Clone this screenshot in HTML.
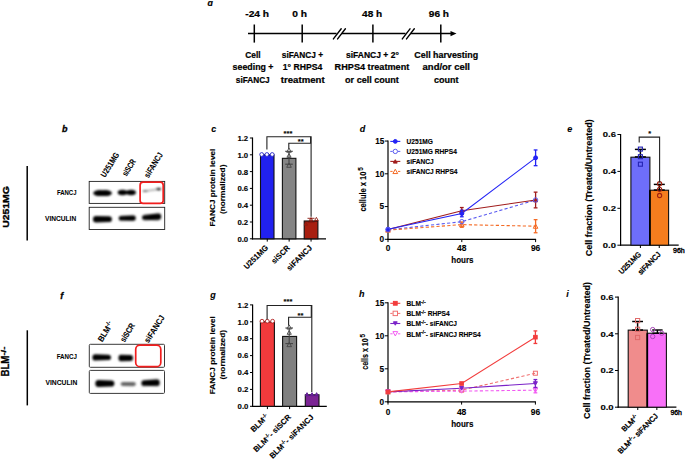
<!DOCTYPE html>
<html><head><meta charset="utf-8"><style>
html,body{margin:0;padding:0;background:#fff;}
svg{display:block;font-family:"Liberation Sans",sans-serif;}
.pz text{stroke:#000;stroke-width:0.12px;}
.pa text{stroke:#000;stroke-width:0.22px;}
</style></head><body>
<svg width="685" height="459" viewBox="0 0 685 459">
<defs>
<filter id="bl" x="-20%" y="-50%" width="140%" height="200%"><feGaussianBlur stdDeviation="0.8"/></filter>
<filter id="bl2" x="-20%" y="-50%" width="140%" height="200%"><feGaussianBlur stdDeviation="0.35"/></filter>
</defs>
<rect width="685" height="459" fill="#fff"/>
<g font-family="Liberation Sans, sans-serif" font-weight="bold" class="pa">
<text x="207.60" y="6.00" font-size="8.8" text-anchor="start" fill="#000" style="font-style:italic" stroke="#000" stroke-width="0.3">&#x251;</text>
<text x="245.30" y="16.90" font-size="9.6" text-anchor="start" fill="#000" textLength="23.80" lengthAdjust="spacingAndGlyphs" >-24 h</text>
<text x="292.30" y="16.90" font-size="9.6" text-anchor="start" fill="#000" textLength="14.80" lengthAdjust="spacingAndGlyphs" >0 h</text>
<text x="362.10" y="16.90" font-size="9.6" text-anchor="start" fill="#000" textLength="20.10" lengthAdjust="spacingAndGlyphs" >48 h</text>
<text x="428.80" y="16.90" font-size="9.6" text-anchor="start" fill="#000" textLength="20.20" lengthAdjust="spacingAndGlyphs" >96 h</text>
<line x1="248.00" y1="33.60" x2="336.60" y2="33.60" stroke="#000" stroke-width="1.5" />
<line x1="341.80" y1="33.60" x2="405.50" y2="33.60" stroke="#000" stroke-width="1.5" />
<line x1="410.60" y1="33.60" x2="452.00" y2="33.60" stroke="#000" stroke-width="1.5" />
<polygon points="450.5,31.0 456.5,33.6 450.5,36.2" fill="#000"/>
<line x1="254.30" y1="24.50" x2="254.30" y2="42.60" stroke="#000" stroke-width="1.5" />
<line x1="302.20" y1="24.50" x2="302.20" y2="42.60" stroke="#000" stroke-width="1.5" />
<line x1="372.90" y1="24.50" x2="372.90" y2="42.60" stroke="#000" stroke-width="1.5" />
<line x1="440.80" y1="24.50" x2="440.80" y2="42.60" stroke="#000" stroke-width="1.5" />
<line x1="333.40" y1="38.90" x2="341.20" y2="28.80" stroke="#000" stroke-width="1.4" stroke-linecap="round"/>
<line x1="337.60" y1="38.90" x2="345.40" y2="28.80" stroke="#000" stroke-width="1.4" stroke-linecap="round"/>
<line x1="402.30" y1="38.90" x2="410.00" y2="28.80" stroke="#000" stroke-width="1.4" stroke-linecap="round"/>
<line x1="406.50" y1="38.90" x2="414.30" y2="28.80" stroke="#000" stroke-width="1.4" stroke-linecap="round"/>
<text x="245.30" y="57.70" font-size="9.0" text-anchor="start" fill="#000" textLength="15.40" lengthAdjust="spacingAndGlyphs" >Cell</text>
<text x="232.60" y="70.30" font-size="9.0" text-anchor="start" fill="#000" textLength="40.90" lengthAdjust="spacingAndGlyphs" >seeding +</text>
<text x="235.80" y="82.70" font-size="9.0" text-anchor="start" fill="#000" textLength="33.90" lengthAdjust="spacingAndGlyphs" >siFANCJ</text>
<text x="281.80" y="57.70" font-size="9.0" text-anchor="start" fill="#000" textLength="41.30" lengthAdjust="spacingAndGlyphs" >siFANCJ +</text>
<text x="282.80" y="70.30" font-size="9.0" text-anchor="start" fill="#000" textLength="39.50" lengthAdjust="spacingAndGlyphs" >1° RHPS4</text>
<text x="280.80" y="82.70" font-size="9.0" text-anchor="start" fill="#000" textLength="43.80" lengthAdjust="spacingAndGlyphs" >treatment</text>
<text x="346.00" y="57.70" font-size="9.0" text-anchor="start" fill="#000" textLength="52.80" lengthAdjust="spacingAndGlyphs" >siFANCJ + 2°</text>
<text x="334.60" y="70.30" font-size="9.0" text-anchor="start" fill="#000" textLength="74.70" lengthAdjust="spacingAndGlyphs" >RHPS4 treatment</text>
<text x="345.10" y="82.70" font-size="9.0" text-anchor="start" fill="#000" textLength="53.70" lengthAdjust="spacingAndGlyphs" >or cell count</text>
<text x="414.30" y="57.70" font-size="9.0" text-anchor="start" fill="#000" textLength="63.80" lengthAdjust="spacingAndGlyphs" >Cell harvesting</text>
<text x="422.60" y="70.30" font-size="9.0" text-anchor="start" fill="#000" textLength="47.40" lengthAdjust="spacingAndGlyphs" >and/or cell</text>
<text x="433.90" y="82.70" font-size="9.0" text-anchor="start" fill="#000" textLength="24.50" lengthAdjust="spacingAndGlyphs" >count</text>
</g>
<g font-family="Liberation Sans, sans-serif" font-weight="bold">
<text x="62.10" y="132.40" font-size="9" text-anchor="start" fill="#000" style="font-style:italic;font-weight:bold" stroke="#000" stroke-width="0.3">b</text>
<line x1="27.20" y1="166.00" x2="27.20" y2="240.60" stroke="#000" stroke-width="1.5" />
<text x="9.00" y="227.80" font-size="9.8" text-anchor="start" fill="#000" textLength="41.60" lengthAdjust="spacingAndGlyphs" transform="rotate(-90 9.00 227.80)" stroke="#000" stroke-width="0.35">U251MG</text>
<text x="56.90" y="194.60" font-size="6.7" text-anchor="start" fill="#000" textLength="19.60" lengthAdjust="spacingAndGlyphs" stroke="#000" stroke-width="0.05">FANCJ</text>
<text x="45.00" y="220.60" font-size="6.7" text-anchor="start" fill="#000" textLength="31.20" lengthAdjust="spacingAndGlyphs" stroke="#000" stroke-width="0.05">VINCULIN</text>
<rect x="89.2" y="181.4" width="75.5" height="22" fill="none" stroke="#222" stroke-width="0.9"/>
<rect x="89.2" y="207.3" width="75.5" height="22.2" fill="none" stroke="#222" stroke-width="0.9"/>
<g fill="#000" opacity="1" filter="url(#bl)" transform="rotate(0 102.55 193.10)"><ellipse cx="99.75" cy="193.10" rx="6.55" ry="3.00"/><ellipse cx="105.36" cy="193.10" rx="6.55" ry="3.00"/><rect x="96.01" y="190.70" width="13.09" height="4.80" rx="2.40"/></g>
<g fill="#000" opacity="1" filter="url(#bl)" transform="rotate(0 126.80 192.50)"><ellipse cx="122.43" cy="192.50" rx="4.73" ry="2.80"/><ellipse cx="131.17" cy="192.50" rx="4.73" ry="2.80"/><rect x="120.43" y="190.80" width="12.74" height="3.40" rx="1.70"/></g>
<g filter="url(#bl)"><line x1="143" y1="191.4" x2="160.6" y2="188.9" stroke="#b0b0b0" stroke-width="1.6"/><ellipse cx="145.2" cy="191.0" rx="2.6" ry="0.9" fill="#777"/><ellipse cx="158.6" cy="189.1" rx="2.6" ry="1.3" fill="#333"/></g>
<path d="M96.02,216.00 L108.88,216.30 A3.02,2.90 0 0 1 108.88,222.10 L96.02,222.40 A3.02,3.20 0 0 1 96.02,216.00 Z" fill="#000" filter="url(#bl)" transform="rotate(0 102.45 219.20)"/>
<path d="M121.44,215.80 L133.06,215.50 A2.74,2.70 0 0 1 133.06,220.90 L121.44,220.60 A2.74,2.40 0 0 1 121.44,215.80 Z" fill="#000" filter="url(#bl)" transform="rotate(-1.5 127.25 218.20)"/>
<path d="M145.09,214.40 L158.21,213.80 A3.09,3.30 0 0 1 158.21,220.40 L145.09,219.80 A3.09,2.70 0 0 1 145.09,214.40 Z" fill="#000" filter="url(#bl)" transform="rotate(-3.5 151.65 217.10)"/>
<rect x="140.1" y="182.2" width="23.1" height="21.2" rx="3" fill="none" stroke="#f21e1e" stroke-width="1.7"/>
<text x="105.00" y="178.00" font-size="8.4" text-anchor="start" fill="#000" textLength="27.60" lengthAdjust="spacingAndGlyphs" transform="rotate(-58 105.00 178.00)" stroke="#000" stroke-width="0.1">U251MG</text>
<text x="126.60" y="176.80" font-size="8.4" text-anchor="start" fill="#000" textLength="18.20" lengthAdjust="spacingAndGlyphs" transform="rotate(-58 126.60 176.80)" stroke="#000" stroke-width="0.1">siSCR</text>
<text x="148.40" y="178.40" font-size="8.4" text-anchor="start" fill="#000" textLength="28.00" lengthAdjust="spacingAndGlyphs" transform="rotate(-58 148.40 178.40)" stroke="#000" stroke-width="0.1">siFANCJ</text>
</g>
<g font-family="Liberation Sans, sans-serif" font-weight="bold">
<text x="60.30" y="298.80" font-size="9" text-anchor="start" fill="#000" style="font-style:italic;font-weight:bold" stroke="#000" stroke-width="0.3">f</text>
<line x1="27.30" y1="330.30" x2="27.30" y2="405.40" stroke="#000" stroke-width="1.5" />
<text x="9.3" y="376.6" font-size="10.2" stroke="#000" stroke-width="0.3" transform="rotate(-90 9.3 376.6)"><tspan textLength="21.0" lengthAdjust="spacingAndGlyphs">BLM</tspan><tspan font-size="7.4" dy="-3.4" textLength="9.0" lengthAdjust="spacingAndGlyphs">-/-</tspan></text>
<text x="56.70" y="359.00" font-size="6.7" text-anchor="start" fill="#000" textLength="20.20" lengthAdjust="spacingAndGlyphs" stroke="#000" stroke-width="0.05">FANCJ</text>
<text x="45.50" y="384.90" font-size="6.7" text-anchor="start" fill="#000" textLength="31.80" lengthAdjust="spacingAndGlyphs" stroke="#000" stroke-width="0.05">VINCULIN</text>
<rect x="89.3" y="344.3" width="75.2" height="23" rx="1" fill="#fff" stroke="#3a3a3a" stroke-width="1.0"/>
<rect x="89.3" y="370.4" width="75.2" height="23" rx="1" fill="#fff" stroke="#3a3a3a" stroke-width="1.0"/>
<path d="M95.38,354.20 L108.02,354.80 A2.98,2.60 0 0 1 108.02,360.00 L95.38,360.60 A2.98,3.20 0 0 1 95.38,354.20 Z" fill="#000" filter="url(#bl)" transform="rotate(0 101.70 357.40)"/>
<path d="M120.82,354.80 L130.68,355.00 A2.32,3.00 0 0 1 130.68,361.00 L120.82,361.20 A2.32,3.20 0 0 1 120.82,354.80 Z" fill="#000" filter="url(#bl)" transform="rotate(0 125.75 358.00)"/>
<path d="M98.36,380.00 L111.34,380.40 A3.06,3.10 0 0 1 111.34,386.60 L98.36,387.00 A3.06,3.50 0 0 1 98.36,380.00 Z" fill="#000" filter="url(#bl)" transform="rotate(0 104.85 383.50)"/>
<path d="M123.05,382.10 L133.45,382.00 A2.45,2.10 0 0 1 133.45,386.20 L123.05,386.10 A2.45,2.00 0 0 1 123.05,382.10 Z" fill="#666" filter="url(#bl)" transform="rotate(0 128.25 384.10)"/>
<path d="M144.26,380.00 L156.84,379.50 A2.96,3.40 0 0 1 156.84,386.30 L144.26,385.80 A2.96,2.90 0 0 1 144.26,380.00 Z" fill="#000" filter="url(#bl)" transform="rotate(-2 150.55 382.90)"/>
<rect x="135.7" y="345.2" width="25.1" height="21.5" rx="4.2" fill="none" stroke="#f21e1e" stroke-width="1.7"/>
<text x="102.2" y="342.4" font-size="8.4" stroke="#000" stroke-width="0.1" transform="rotate(-58 102.2 342.4)"><tspan textLength="16.5" lengthAdjust="spacingAndGlyphs">BLM</tspan><tspan font-size="5.6" dy="-3.0">-/-</tspan></text>
<text x="124.40" y="342.80" font-size="8.4" text-anchor="start" fill="#000" textLength="20.50" lengthAdjust="spacingAndGlyphs" transform="rotate(-58 124.40 342.80)" stroke="#000" stroke-width="0.1">siSCR</text>
<text x="148.60" y="343.60" font-size="8.4" text-anchor="start" fill="#000" textLength="31.00" lengthAdjust="spacingAndGlyphs" transform="rotate(-58 148.60 343.60)" stroke="#000" stroke-width="0.1">siFANCJ</text>
</g>
<g font-family="Liberation Sans, sans-serif" font-weight="bold" class="pz">
<text x="211.30" y="132.10" font-size="9" text-anchor="start" fill="#000" style="font-style:italic;font-weight:bold" stroke="#000" stroke-width="0.3">c</text>
<line x1="252.50" y1="137.50" x2="252.50" y2="239.40" stroke="#000" stroke-width="1.2" />
<line x1="251.90" y1="238.80" x2="326.00" y2="238.80" stroke="#000" stroke-width="1.3" />
<line x1="249.90" y1="238.80" x2="252.50" y2="238.80" stroke="#000" stroke-width="1.0" />
<text x="248.20" y="241.80" font-size="8.0" text-anchor="end" fill="#000" textLength="10.80" lengthAdjust="spacingAndGlyphs" >0.0</text>
<line x1="249.90" y1="222.00" x2="252.50" y2="222.00" stroke="#000" stroke-width="1.0" />
<text x="248.20" y="225.00" font-size="8.0" text-anchor="end" fill="#000" textLength="10.80" lengthAdjust="spacingAndGlyphs" >0.2</text>
<line x1="249.90" y1="205.20" x2="252.50" y2="205.20" stroke="#000" stroke-width="1.0" />
<text x="248.20" y="208.20" font-size="8.0" text-anchor="end" fill="#000" textLength="10.80" lengthAdjust="spacingAndGlyphs" >0.4</text>
<line x1="249.90" y1="188.40" x2="252.50" y2="188.40" stroke="#000" stroke-width="1.0" />
<text x="248.20" y="191.40" font-size="8.0" text-anchor="end" fill="#000" textLength="10.80" lengthAdjust="spacingAndGlyphs" >0.6</text>
<line x1="249.90" y1="171.60" x2="252.50" y2="171.60" stroke="#000" stroke-width="1.0" />
<text x="248.20" y="174.60" font-size="8.0" text-anchor="end" fill="#000" textLength="10.80" lengthAdjust="spacingAndGlyphs" >0.8</text>
<line x1="249.90" y1="154.80" x2="252.50" y2="154.80" stroke="#000" stroke-width="1.0" />
<text x="248.20" y="157.80" font-size="8.0" text-anchor="end" fill="#000" textLength="10.80" lengthAdjust="spacingAndGlyphs" >1.0</text>
<line x1="249.90" y1="138.00" x2="252.50" y2="138.00" stroke="#000" stroke-width="1.0" />
<text x="248.20" y="141.00" font-size="8.0" text-anchor="end" fill="#000" textLength="10.80" lengthAdjust="spacingAndGlyphs" >1.2</text>
<text x="215.00" y="187.60" font-size="8.0" text-anchor="middle" fill="#000" textLength="78.00" lengthAdjust="spacingAndGlyphs" transform="rotate(-90 215.00 187.60)" >FANCJ protein level</text>
<text x="225.20" y="189.30" font-size="8.0" text-anchor="middle" fill="#000" textLength="49.60" lengthAdjust="spacingAndGlyphs" transform="rotate(-90 225.20 189.30)" >(normalized)</text>
<rect x="260.50" y="154.80" width="13.50" height="84.00" fill="#2121ef" stroke="#111" stroke-width="1.1"/>
<line x1="267.25" y1="238.80" x2="267.25" y2="241.60" stroke="#000" stroke-width="1.0" />
<rect x="282.40" y="158.33" width="13.50" height="80.47" fill="#858585" stroke="#111" stroke-width="1.1"/>
<line x1="289.15" y1="238.80" x2="289.15" y2="241.60" stroke="#000" stroke-width="1.0" />
<rect x="304.20" y="220.99" width="13.70" height="17.81" fill="#a81f10" stroke="#111" stroke-width="1.1"/>
<line x1="311.05" y1="238.80" x2="311.05" y2="241.60" stroke="#000" stroke-width="1.0" />
<circle cx="261.70" cy="154.50" r="1.9" fill="#fff" stroke="#2222c8" stroke-width="0.9"/>
<circle cx="266.90" cy="154.50" r="1.9" fill="#fff" stroke="#2222c8" stroke-width="0.9"/>
<circle cx="272.20" cy="154.50" r="1.9" fill="#fff" stroke="#2222c8" stroke-width="0.9"/>
<line x1="289.00" y1="151.30" x2="289.00" y2="164.20" stroke="#444" stroke-width="1.1" />
<line x1="285.20" y1="151.30" x2="292.80" y2="151.30" stroke="#444" stroke-width="1.1" />
<line x1="285.20" y1="164.20" x2="292.80" y2="164.20" stroke="#444" stroke-width="1.1" />
<polygon points="286.70,152.27 291.30,152.27 289.00,148.13" fill="none" stroke="#444" stroke-width="0.9"/>
<polygon points="286.90,157.29 291.10,157.29 289.00,153.51" fill="none" stroke="#444" stroke-width="0.9"/>
<polygon points="286.70,167.27 291.30,167.27 289.00,163.13" fill="none" stroke="#444" stroke-width="0.9"/>
<line x1="311.00" y1="218.30" x2="311.00" y2="222.60" stroke="#8a1a10" stroke-width="0.9" />
<line x1="307.50" y1="218.30" x2="314.50" y2="218.30" stroke="#8a1a10" stroke-width="0.9" />
<line x1="307.50" y1="222.60" x2="314.50" y2="222.60" stroke="#8a1a10" stroke-width="0.9" />
<polygon points="309.20,220.82 312.80,220.82 311.00,217.58" fill="none" stroke="#8a1a10" stroke-width="0.9"/>
<polygon points="314.60,220.62 318.20,220.62 316.40,217.38" fill="none" stroke="#8a1a10" stroke-width="0.9"/>
<polygon points="304.10,225.13 307.50,225.13 305.80,222.07" fill="none" stroke="#8a1a10" stroke-width="0.9"/>
<polyline points="266.90,149.60 266.90,136.80 311.10,136.80 311.10,216.80" fill="none" stroke="#222" stroke-width="1.1"/>
<polyline points="288.80,148.70 288.80,143.30 310.60,143.30 310.60,136.80" fill="none" stroke="#222" stroke-width="1.1"/>
<text x="288.00" y="135.60" font-size="7.5" text-anchor="middle" fill="#000" >***</text>
<text x="300.70" y="144.00" font-size="7.5" text-anchor="middle" fill="#000" >**</text>
<text x="268.60" y="248.20" font-size="8.0" text-anchor="end" fill="#000" textLength="30.60" lengthAdjust="spacingAndGlyphs" transform="rotate(-45 268.60 248.20)" >U251MG</text>
<text x="290.40" y="248.40" font-size="8.0" text-anchor="end" fill="#000" textLength="22.40" lengthAdjust="spacingAndGlyphs" transform="rotate(-45 290.40 248.40)" >siSCR</text>
<text x="312.60" y="248.40" font-size="8.0" text-anchor="end" fill="#000" textLength="32.30" lengthAdjust="spacingAndGlyphs" transform="rotate(-45 312.60 248.40)" >siFANCJ</text>
</g>
<g font-family="Liberation Sans, sans-serif" font-weight="bold" class="pz">
<text x="359.70" y="132.10" font-size="9" text-anchor="start" fill="#000" style="font-style:italic;font-weight:bold" stroke="#000" stroke-width="0.3">d</text>
<line x1="388.00" y1="140.55" x2="388.00" y2="239.90" stroke="#000" stroke-width="1.2" />
<line x1="387.40" y1="239.30" x2="536.10" y2="239.30" stroke="#000" stroke-width="1.2" />
<line x1="384.80" y1="239.30" x2="388.00" y2="239.30" stroke="#000" stroke-width="1.0" />
<text x="384.20" y="242.20" font-size="8.2" text-anchor="end" fill="#000" textLength="4.60" lengthAdjust="spacingAndGlyphs" >0</text>
<line x1="384.80" y1="206.55" x2="388.00" y2="206.55" stroke="#000" stroke-width="1.0" />
<text x="384.20" y="209.45" font-size="8.2" text-anchor="end" fill="#000" textLength="4.60" lengthAdjust="spacingAndGlyphs" >5</text>
<line x1="384.80" y1="173.80" x2="388.00" y2="173.80" stroke="#000" stroke-width="1.0" />
<text x="384.20" y="176.70" font-size="8.2" text-anchor="end" fill="#000" textLength="9.00" lengthAdjust="spacingAndGlyphs" >10</text>
<line x1="384.80" y1="141.05" x2="388.00" y2="141.05" stroke="#000" stroke-width="1.0" />
<text x="384.20" y="143.95" font-size="8.2" text-anchor="end" fill="#000" textLength="9.00" lengthAdjust="spacingAndGlyphs" >15</text>
<line x1="388.00" y1="239.30" x2="388.00" y2="242.10" stroke="#000" stroke-width="1.0" />
<text x="388.00" y="251.10" font-size="8.2" text-anchor="middle" fill="#000" textLength="4.60" lengthAdjust="spacingAndGlyphs" >0</text>
<line x1="461.80" y1="239.30" x2="461.80" y2="242.10" stroke="#000" stroke-width="1.0" />
<text x="461.80" y="251.10" font-size="8.2" text-anchor="middle" fill="#000" textLength="9.40" lengthAdjust="spacingAndGlyphs" >48</text>
<line x1="535.60" y1="239.30" x2="535.60" y2="242.10" stroke="#000" stroke-width="1.0" />
<text x="535.60" y="251.10" font-size="8.2" text-anchor="middle" fill="#000" textLength="9.40" lengthAdjust="spacingAndGlyphs" >96</text>
<text x="462.40" y="263.10" font-size="8.6" text-anchor="middle" fill="#000" textLength="22.20" lengthAdjust="spacingAndGlyphs" >hours</text>
<text x="0" y="0" font-size="7.50" transform="translate(366.40 211.60) rotate(-90) scale(1 1.121)">cellule x 10</text>
<text x="363.00" y="170.80" font-size="6.4" transform="rotate(-90 363.00 170.80)">5</text>
<polyline points="388.00,229.80 461.80,221.68 535.60,200.00" fill="none" stroke="#5b5bf0" stroke-width="1.1" stroke-dasharray="3.2,2.2"/>
<polyline points="388.00,230.13 461.80,224.63 535.60,226.20" fill="none" stroke="#f46a24" stroke-width="1.1" stroke-dasharray="3.2,2.2"/>
<polyline points="388.00,229.48 461.80,210.81 535.60,200.00" fill="none" stroke="#a01c1c" stroke-width="1.1"/>
<polyline points="388.00,229.21 461.80,213.49 535.60,157.82" fill="none" stroke="#2323f5" stroke-width="1.1"/>
<polygon points="385.70,232.20 390.30,232.20 388.00,228.06" fill="none" stroke="#f46a24" stroke-width="1.0"/>
<line x1="461.80" y1="222.01" x2="461.80" y2="227.25" stroke="#f46a24" stroke-width="1.3" />
<line x1="459.90" y1="222.01" x2="463.70" y2="222.01" stroke="#f46a24" stroke-width="1.3" />
<line x1="459.90" y1="227.25" x2="463.70" y2="227.25" stroke="#f46a24" stroke-width="1.3" />
<polygon points="459.50,226.70 464.10,226.70 461.80,222.56" fill="none" stroke="#f46a24" stroke-width="1.0"/>
<line x1="535.60" y1="219.65" x2="535.60" y2="232.75" stroke="#f46a24" stroke-width="1.3" />
<line x1="533.70" y1="219.65" x2="537.50" y2="219.65" stroke="#f46a24" stroke-width="1.3" />
<line x1="533.70" y1="232.75" x2="537.50" y2="232.75" stroke="#f46a24" stroke-width="1.3" />
<polygon points="533.30,228.27 537.90,228.27 535.60,224.13" fill="none" stroke="#f46a24" stroke-width="1.0"/>
<polygon points="386.00,231.28 390.00,231.28 388.00,227.68" fill="#a01c1c" stroke="#a01c1c" stroke-width="1.0"/>
<line x1="461.80" y1="207.53" x2="461.80" y2="214.08" stroke="#a01c1c" stroke-width="1.3" />
<line x1="459.90" y1="207.53" x2="463.70" y2="207.53" stroke="#a01c1c" stroke-width="1.3" />
<line x1="459.90" y1="214.08" x2="463.70" y2="214.08" stroke="#a01c1c" stroke-width="1.3" />
<polygon points="459.80,212.61 463.80,212.61 461.80,209.01" fill="#a01c1c" stroke="#a01c1c" stroke-width="1.0"/>
<line x1="535.60" y1="192.14" x2="535.60" y2="207.86" stroke="#a01c1c" stroke-width="1.3" />
<line x1="533.70" y1="192.14" x2="537.50" y2="192.14" stroke="#a01c1c" stroke-width="1.3" />
<line x1="533.70" y1="207.86" x2="537.50" y2="207.86" stroke="#a01c1c" stroke-width="1.3" />
<polygon points="533.60,201.80 537.60,201.80 535.60,198.20" fill="#a01c1c" stroke="#a01c1c" stroke-width="1.0"/>
<circle cx="388.00" cy="229.21" r="2.0" fill="#2323f5" stroke="#2323f5" stroke-width="1.0"/>
<line x1="461.80" y1="210.22" x2="461.80" y2="216.77" stroke="#2323f5" stroke-width="1.3" />
<line x1="459.90" y1="210.22" x2="463.70" y2="210.22" stroke="#2323f5" stroke-width="1.3" />
<line x1="459.90" y1="216.77" x2="463.70" y2="216.77" stroke="#2323f5" stroke-width="1.3" />
<circle cx="461.80" cy="213.49" r="2.0" fill="#2323f5" stroke="#2323f5" stroke-width="1.0"/>
<line x1="535.60" y1="149.96" x2="535.60" y2="165.68" stroke="#2323f5" stroke-width="1.3" />
<line x1="533.70" y1="149.96" x2="537.50" y2="149.96" stroke="#2323f5" stroke-width="1.3" />
<line x1="533.70" y1="165.68" x2="537.50" y2="165.68" stroke="#2323f5" stroke-width="1.3" />
<circle cx="535.60" cy="157.82" r="2.0" fill="#2323f5" stroke="#2323f5" stroke-width="1.0"/>
<circle cx="388.00" cy="229.80" r="2.2" fill="none" stroke="#5b5bf0" stroke-width="1.0"/>
<circle cx="461.80" cy="221.68" r="2.2" fill="none" stroke="#5b5bf0" stroke-width="1.0"/>
<circle cx="535.60" cy="200.00" r="2.2" fill="none" stroke="#5b5bf0" stroke-width="1.0"/>
<line x1="390.30" y1="141.40" x2="400.30" y2="141.40" stroke="#2323f5" stroke-width="1.1" />
<circle cx="395.30" cy="141.40" r="1.9" fill="#2323f5" stroke="#2323f5" stroke-width="1.0"/>
<text x="406.6" y="143.80" font-size="6.6">U251MG</text>
<line x1="390.30" y1="151.40" x2="392.60" y2="151.40" stroke="#5b5bf0" stroke-width="1.0" />
<line x1="398.00" y1="151.40" x2="400.30" y2="151.40" stroke="#5b5bf0" stroke-width="1.0" />
<circle cx="395.30" cy="151.40" r="2.2" fill="none" stroke="#5b5bf0" stroke-width="1.0"/>
<text x="406.6" y="153.80" font-size="6.6">U251MG RHPS4</text>
<line x1="390.30" y1="161.40" x2="400.30" y2="161.40" stroke="#a01c1c" stroke-width="1.1" />
<polygon points="393.40,163.11 397.20,163.11 395.30,159.69" fill="#a01c1c" stroke="#a01c1c" stroke-width="1.0"/>
<text x="406.6" y="163.80" font-size="6.6">siFANCJ</text>
<line x1="390.30" y1="171.40" x2="392.60" y2="171.40" stroke="#f46a24" stroke-width="1.0" />
<line x1="398.00" y1="171.40" x2="400.30" y2="171.40" stroke="#f46a24" stroke-width="1.0" />
<polygon points="392.90,173.56 397.70,173.56 395.30,169.24" fill="none" stroke="#f46a24" stroke-width="1.0"/>
<text x="406.6" y="173.80" font-size="6.6">siFANCJ RHPS4</text>
</g>
<g font-family="Liberation Sans, sans-serif" font-weight="bold" class="pz">
<text x="567.30" y="132.10" font-size="9" text-anchor="start" fill="#000" style="font-style:italic;font-weight:bold" stroke="#000" stroke-width="0.3">e</text>
<line x1="620.60" y1="134.00" x2="620.60" y2="245.80" stroke="#000" stroke-width="1.2" />
<line x1="620.00" y1="245.20" x2="678.70" y2="245.20" stroke="#000" stroke-width="1.2" />
<line x1="617.40" y1="245.20" x2="620.60" y2="245.20" stroke="#000" stroke-width="1.0" />
<text x="616.00" y="247.90" font-size="7.6" text-anchor="end" fill="#000" textLength="13.20" lengthAdjust="spacingAndGlyphs" >0.0</text>
<line x1="617.40" y1="208.30" x2="620.60" y2="208.30" stroke="#000" stroke-width="1.0" />
<text x="616.00" y="211.00" font-size="7.6" text-anchor="end" fill="#000" textLength="13.20" lengthAdjust="spacingAndGlyphs" >0.2</text>
<line x1="617.40" y1="171.40" x2="620.60" y2="171.40" stroke="#000" stroke-width="1.0" />
<text x="616.00" y="174.10" font-size="7.6" text-anchor="end" fill="#000" textLength="13.20" lengthAdjust="spacingAndGlyphs" >0.4</text>
<line x1="617.40" y1="134.50" x2="620.60" y2="134.50" stroke="#000" stroke-width="1.0" />
<text x="616.00" y="137.20" font-size="7.6" text-anchor="end" fill="#000" textLength="13.20" lengthAdjust="spacingAndGlyphs" >0.6</text>
<text x="592.50" y="187.70" font-size="9.8" text-anchor="middle" fill="#000" textLength="137.00" lengthAdjust="spacingAndGlyphs" transform="rotate(-90 592.50 187.70)" >Cell fraction (Treated/Untreated)</text>
<rect x="630.90" y="157.19" width="19.00" height="88.01" fill="#6e6efa" stroke="#111" stroke-width="1.1"/>
<line x1="640.40" y1="245.20" x2="640.40" y2="248.00" stroke="#000" stroke-width="1.0" />
<rect x="649.90" y="190.22" width="18.70" height="54.98" fill="#f57d1e" stroke="#111" stroke-width="1.1"/>
<line x1="659.25" y1="245.20" x2="659.25" y2="248.00" stroke="#000" stroke-width="1.0" />
<line x1="649.90" y1="190.22" x2="649.90" y2="245.20" stroke="#000" stroke-width="1.7" />
<line x1="640.40" y1="149.40" x2="640.40" y2="156.90" stroke="#000" stroke-width="1.45" />
<line x1="634.90" y1="149.40" x2="645.90" y2="149.40" stroke="#000" stroke-width="1.45" />
<line x1="634.90" y1="156.90" x2="645.90" y2="156.90" stroke="#000" stroke-width="1.45" />
<rect x="638.40" y="147.10" width="4.0" height="4.0" fill="none" stroke="#2424b4" stroke-width="1.1"/>
<rect x="638.40" y="154.70" width="4.0" height="4.0" fill="none" stroke="#2424b4" stroke-width="1.1"/>
<rect x="638.40" y="162.20" width="4.0" height="4.0" fill="none" stroke="#2424b4" stroke-width="1.1"/>
<line x1="659.30" y1="184.40" x2="659.30" y2="190.00" stroke="#000" stroke-width="1.45" />
<line x1="653.80" y1="184.40" x2="664.80" y2="184.40" stroke="#000" stroke-width="1.45" />
<line x1="653.80" y1="190.00" x2="664.80" y2="190.00" stroke="#000" stroke-width="1.45" />
<circle cx="659.60" cy="183.70" r="2.1" fill="none" stroke="#a02010" stroke-width="1.1"/>
<circle cx="659.60" cy="189.30" r="2.1" fill="none" stroke="#a02010" stroke-width="1.1"/>
<circle cx="659.60" cy="195.50" r="2.1" fill="none" stroke="#a02010" stroke-width="1.1"/>
<polyline points="639.20,142.60 639.20,137.10 659.60,137.10 659.60,182.40" fill="none" stroke="#222" stroke-width="1.1"/>
<text x="649.80" y="136.20" font-size="7.5" text-anchor="middle" fill="#000" >*</text>
<text x="673.00" y="252.60" font-size="7.0" text-anchor="start" fill="#000" textLength="11.80" lengthAdjust="spacingAndGlyphs" style="font-weight:normal;stroke-width:0.4px" >96h</text>
<text x="641.60" y="254.80" font-size="7.4" text-anchor="end" fill="#000" textLength="28.00" lengthAdjust="spacingAndGlyphs" transform="rotate(-45 641.60 254.80)" style="font-weight:normal;stroke-width:0.4px" >U251MG</text>
<text x="661.20" y="254.80" font-size="7.4" text-anchor="end" fill="#000" textLength="28.60" lengthAdjust="spacingAndGlyphs" transform="rotate(-45 661.20 254.80)" style="font-weight:normal;stroke-width:0.4px" >siFANCJ</text>
</g>
<g font-family="Liberation Sans, sans-serif" font-weight="bold" class="pz">
<text x="210.30" y="298.40" font-size="9" text-anchor="start" fill="#000" style="font-style:italic;font-weight:bold" stroke="#000" stroke-width="0.3">g</text>
<line x1="252.60" y1="304.40" x2="252.60" y2="406.90" stroke="#000" stroke-width="1.2" />
<line x1="252.00" y1="406.30" x2="326.80" y2="406.30" stroke="#000" stroke-width="1.2" />
<line x1="250.00" y1="406.30" x2="252.60" y2="406.30" stroke="#000" stroke-width="1.0" />
<text x="248.40" y="409.00" font-size="8.0" text-anchor="end" fill="#000" textLength="10.80" lengthAdjust="spacingAndGlyphs" >0.0</text>
<line x1="250.00" y1="389.40" x2="252.60" y2="389.40" stroke="#000" stroke-width="1.0" />
<text x="248.40" y="392.10" font-size="8.0" text-anchor="end" fill="#000" textLength="10.80" lengthAdjust="spacingAndGlyphs" >0.2</text>
<line x1="250.00" y1="372.50" x2="252.60" y2="372.50" stroke="#000" stroke-width="1.0" />
<text x="248.40" y="375.20" font-size="8.0" text-anchor="end" fill="#000" textLength="10.80" lengthAdjust="spacingAndGlyphs" >0.4</text>
<line x1="250.00" y1="355.60" x2="252.60" y2="355.60" stroke="#000" stroke-width="1.0" />
<text x="248.40" y="358.30" font-size="8.0" text-anchor="end" fill="#000" textLength="10.80" lengthAdjust="spacingAndGlyphs" >0.6</text>
<line x1="250.00" y1="338.70" x2="252.60" y2="338.70" stroke="#000" stroke-width="1.0" />
<text x="248.40" y="341.40" font-size="8.0" text-anchor="end" fill="#000" textLength="10.80" lengthAdjust="spacingAndGlyphs" >0.8</text>
<line x1="250.00" y1="321.80" x2="252.60" y2="321.80" stroke="#000" stroke-width="1.0" />
<text x="248.40" y="324.50" font-size="8.0" text-anchor="end" fill="#000" textLength="10.80" lengthAdjust="spacingAndGlyphs" >1.0</text>
<line x1="250.00" y1="304.90" x2="252.60" y2="304.90" stroke="#000" stroke-width="1.0" />
<text x="248.40" y="307.60" font-size="8.0" text-anchor="end" fill="#000" textLength="10.80" lengthAdjust="spacingAndGlyphs" >1.2</text>
<text x="215.20" y="355.20" font-size="8.0" text-anchor="middle" fill="#000" textLength="78.00" lengthAdjust="spacingAndGlyphs" transform="rotate(-90 215.20 355.20)" >FANCJ protein level</text>
<text x="225.20" y="354.70" font-size="8.0" text-anchor="middle" fill="#000" textLength="49.60" lengthAdjust="spacingAndGlyphs" transform="rotate(-90 225.20 354.70)" >(normalized)</text>
<rect x="260.40" y="321.80" width="14.00" height="84.50" fill="#f23a3c" stroke="#111" stroke-width="1.1"/>
<line x1="267.40" y1="406.30" x2="267.40" y2="409.10" stroke="#000" stroke-width="1.0" />
<rect x="282.60" y="336.42" width="14.00" height="69.88" fill="#808080" stroke="#111" stroke-width="1.1"/>
<line x1="289.60" y1="406.30" x2="289.60" y2="409.10" stroke="#000" stroke-width="1.0" />
<rect x="305.30" y="394.81" width="13.70" height="11.49" fill="#7b2494" stroke="#111" stroke-width="1.1"/>
<line x1="312.15" y1="406.30" x2="312.15" y2="409.10" stroke="#000" stroke-width="1.0" />
<circle cx="262.00" cy="321.20" r="1.9" fill="#fff" stroke="#b02020" stroke-width="0.9"/>
<circle cx="267.30" cy="321.20" r="1.9" fill="#fff" stroke="#b02020" stroke-width="0.9"/>
<circle cx="272.60" cy="321.20" r="1.9" fill="#fff" stroke="#b02020" stroke-width="0.9"/>
<line x1="289.20" y1="328.00" x2="289.20" y2="343.60" stroke="#444" stroke-width="1.1" />
<line x1="285.40" y1="328.00" x2="293.00" y2="328.00" stroke="#444" stroke-width="1.1" />
<line x1="285.40" y1="343.60" x2="293.00" y2="343.60" stroke="#444" stroke-width="1.1" />
<polygon points="286.90,329.07 291.50,329.07 289.20,324.93" fill="none" stroke="#444" stroke-width="0.9"/>
<polygon points="287.10,334.29 291.30,334.29 289.20,330.51" fill="none" stroke="#444" stroke-width="0.9"/>
<polygon points="286.90,346.67 291.50,346.67 289.20,342.53" fill="none" stroke="#444" stroke-width="0.9"/>
<polygon points="305.30,395.73 308.70,395.73 307.00,392.67" fill="#7a2aa8" stroke="#5a1a90" stroke-width="0.9"/>
<polygon points="310.30,395.73 313.70,395.73 312.00,392.67" fill="#7a2aa8" stroke="#5a1a90" stroke-width="0.9"/>
<polygon points="314.90,395.73 318.30,395.73 316.60,392.67" fill="#7a2aa8" stroke="#5a1a90" stroke-width="0.9"/>
<polyline points="267.10,319.40 267.10,305.50 311.80,305.50 311.80,392.00" fill="none" stroke="#222" stroke-width="1.1"/>
<polyline points="288.60,325.50 288.60,317.30 311.30,317.30 311.30,305.50" fill="none" stroke="#222" stroke-width="1.1"/>
<text x="288.00" y="304.30" font-size="7.5" text-anchor="middle" fill="#000" >***</text>
<text x="300.50" y="318.00" font-size="7.5" text-anchor="middle" fill="#000" >**</text>
<text x="269.2" y="417.2" font-size="7.8" text-anchor="end" transform="rotate(-45 269.2 417.2)">BLM<tspan font-size="5.2" dy="-2.8">-/-</tspan></text>
<text x="291.6" y="417.6" font-size="7.8" text-anchor="end" transform="rotate(-45 291.6 417.6)">BLM<tspan font-size="5.2" dy="-2.8">-/-</tspan><tspan dy="2.8">- siSCR</tspan></text>
<text x="314.1" y="417.6" font-size="7.8" text-anchor="end" transform="rotate(-45 314.1 417.6)">BLM<tspan font-size="5.2" dy="-2.8">-/-</tspan><tspan dy="2.8">- siFANCJ</tspan></text>
</g>
<g font-family="Liberation Sans, sans-serif" font-weight="bold" class="pz">
<text x="359.00" y="297.40" font-size="9" text-anchor="start" fill="#000" style="font-style:italic;font-weight:bold" stroke="#000" stroke-width="0.3">h</text>
<line x1="388.00" y1="302.30" x2="388.00" y2="402.40" stroke="#000" stroke-width="1.2" />
<line x1="387.40" y1="401.80" x2="535.90" y2="401.80" stroke="#000" stroke-width="1.2" />
<line x1="384.80" y1="401.80" x2="388.00" y2="401.80" stroke="#000" stroke-width="1.0" />
<text x="384.20" y="404.70" font-size="8.2" text-anchor="end" fill="#000" textLength="4.60" lengthAdjust="spacingAndGlyphs" >0</text>
<line x1="384.80" y1="368.80" x2="388.00" y2="368.80" stroke="#000" stroke-width="1.0" />
<text x="384.20" y="371.70" font-size="8.2" text-anchor="end" fill="#000" textLength="4.60" lengthAdjust="spacingAndGlyphs" >5</text>
<line x1="384.80" y1="335.80" x2="388.00" y2="335.80" stroke="#000" stroke-width="1.0" />
<text x="384.20" y="338.70" font-size="8.2" text-anchor="end" fill="#000" textLength="9.00" lengthAdjust="spacingAndGlyphs" >10</text>
<line x1="384.80" y1="302.80" x2="388.00" y2="302.80" stroke="#000" stroke-width="1.0" />
<text x="384.20" y="305.70" font-size="8.2" text-anchor="end" fill="#000" textLength="9.00" lengthAdjust="spacingAndGlyphs" >15</text>
<line x1="388.00" y1="401.80" x2="388.00" y2="404.60" stroke="#000" stroke-width="1.0" />
<text x="388.00" y="414.70" font-size="8.2" text-anchor="middle" fill="#000" textLength="4.60" lengthAdjust="spacingAndGlyphs" >0</text>
<line x1="461.60" y1="401.80" x2="461.60" y2="404.60" stroke="#000" stroke-width="1.0" />
<text x="461.60" y="414.70" font-size="8.2" text-anchor="middle" fill="#000" textLength="9.40" lengthAdjust="spacingAndGlyphs" >48</text>
<line x1="535.40" y1="401.80" x2="535.40" y2="404.60" stroke="#000" stroke-width="1.0" />
<text x="535.40" y="414.70" font-size="8.2" text-anchor="middle" fill="#000" textLength="9.40" lengthAdjust="spacingAndGlyphs" >96</text>
<text x="462.30" y="426.70" font-size="8.6" text-anchor="middle" fill="#000" textLength="22.20" lengthAdjust="spacingAndGlyphs" >hours</text>
<text x="0" y="0" font-size="7.10" transform="translate(368.20 369.80) rotate(-90) scale(1 1.182)">cells x 10</text>
<text x="364.80" y="337.40" font-size="6.4" transform="rotate(-90 364.80 337.40)">5</text>
<polyline points="388.00,391.90 461.60,390.18 535.40,373.22" fill="none" stroke="#f07070" stroke-width="1.1" stroke-dasharray="3.2,2.2"/>
<polyline points="388.00,391.90 461.60,391.11 535.40,390.18" fill="none" stroke="#f25af2" stroke-width="1.1" stroke-dasharray="3.2,2.2"/>
<polyline points="388.00,391.90 461.60,388.27 535.40,383.52" fill="none" stroke="#7a22c8" stroke-width="1.1"/>
<polyline points="388.00,391.90 461.60,383.52 535.40,337.19" fill="none" stroke="#f23c3c" stroke-width="1.1"/>
<rect x="386.00" y="389.90" width="4.0" height="4.0" fill="none" stroke="#f07070" stroke-width="1.0"/>
<rect x="459.60" y="388.18" width="4.0" height="4.0" fill="none" stroke="#f07070" stroke-width="1.0"/>
<rect x="533.40" y="371.22" width="4.0" height="4.0" fill="none" stroke="#f07070" stroke-width="1.0"/>
<polygon points="385.70,389.83 390.30,389.83 388.00,393.97" fill="none" stroke="#f25af2" stroke-width="1.0"/>
<polygon points="459.30,389.04 463.90,389.04 461.60,393.18" fill="none" stroke="#f25af2" stroke-width="1.0"/>
<line x1="535.40" y1="387.54" x2="535.40" y2="392.82" stroke="#f25af2" stroke-width="1.3" />
<line x1="533.50" y1="387.54" x2="537.30" y2="387.54" stroke="#f25af2" stroke-width="1.3" />
<line x1="533.50" y1="392.82" x2="537.30" y2="392.82" stroke="#f25af2" stroke-width="1.3" />
<polygon points="533.10,388.11 537.70,388.11 535.40,392.25" fill="none" stroke="#f25af2" stroke-width="1.0"/>
<polygon points="386.00,390.10 390.00,390.10 388.00,393.70" fill="#7a22c8" stroke="#7a22c8" stroke-width="1.0"/>
<polygon points="459.60,386.47 463.60,386.47 461.60,390.07" fill="#7a22c8" stroke="#7a22c8" stroke-width="1.0"/>
<line x1="535.40" y1="379.56" x2="535.40" y2="387.48" stroke="#7a22c8" stroke-width="1.3" />
<line x1="533.50" y1="379.56" x2="537.30" y2="379.56" stroke="#7a22c8" stroke-width="1.3" />
<line x1="533.50" y1="387.48" x2="537.30" y2="387.48" stroke="#7a22c8" stroke-width="1.3" />
<polygon points="533.40,381.72 537.40,381.72 535.40,385.32" fill="#7a22c8" stroke="#7a22c8" stroke-width="1.0"/>
<rect x="386.20" y="390.10" width="3.6" height="3.6" fill="#f23c3c" stroke="#f23c3c" stroke-width="1.0"/>
<rect x="459.80" y="381.72" width="3.6" height="3.6" fill="#f23c3c" stroke="#f23c3c" stroke-width="1.0"/>
<line x1="535.40" y1="330.92" x2="535.40" y2="343.46" stroke="#f23c3c" stroke-width="1.3" />
<line x1="533.50" y1="330.92" x2="537.30" y2="330.92" stroke="#f23c3c" stroke-width="1.3" />
<line x1="533.50" y1="343.46" x2="537.30" y2="343.46" stroke="#f23c3c" stroke-width="1.3" />
<rect x="533.60" y="335.39" width="3.6" height="3.6" fill="#f23c3c" stroke="#f23c3c" stroke-width="1.0"/>
<line x1="390.30" y1="303.30" x2="400.30" y2="303.30" stroke="#f23c3c" stroke-width="1.1" />
<rect x="393.40" y="301.40" width="3.8" height="3.8" fill="#f23c3c" stroke="#f23c3c" stroke-width="1.0"/>
<text x="406.6" y="306.20" font-size="6.6">BLM<tspan font-size="5.2" dy="-2.6">-/-</tspan></text>
<line x1="390.30" y1="313.40" x2="392.60" y2="313.40" stroke="#f07070" stroke-width="1.0" />
<line x1="398.00" y1="313.40" x2="400.30" y2="313.40" stroke="#f07070" stroke-width="1.0" />
<rect x="393.10" y="311.20" width="4.4" height="4.4" fill="none" stroke="#f07070" stroke-width="1.0"/>
<text x="406.6" y="316.30" font-size="6.6">BLM<tspan font-size="5.2" dy="-2.6">-/-</tspan><tspan dy="2.6"> RHPS4</tspan></text>
<line x1="390.30" y1="323.50" x2="400.30" y2="323.50" stroke="#7a22c8" stroke-width="1.1" />
<polygon points="393.40,321.79 397.20,321.79 395.30,325.21" fill="#7a22c8" stroke="#7a22c8" stroke-width="1.0"/>
<text x="406.6" y="326.40" font-size="6.6">BLM<tspan font-size="5.2" dy="-2.6">-/-</tspan><tspan dy="2.6">- siFANCJ</tspan></text>
<line x1="390.30" y1="333.80" x2="392.60" y2="333.80" stroke="#f25af2" stroke-width="1.0" />
<line x1="398.00" y1="333.80" x2="400.30" y2="333.80" stroke="#f25af2" stroke-width="1.0" />
<polygon points="392.90,331.64 397.70,331.64 395.30,335.96" fill="none" stroke="#f25af2" stroke-width="1.0"/>
<text x="406.6" y="336.70" font-size="6.6">BLM<tspan font-size="5.2" dy="-2.6">-/-</tspan><tspan dy="2.6">- siFANCJ RHPS4</tspan></text>
</g>
<g font-family="Liberation Sans, sans-serif" font-weight="bold" class="pz">
<text x="566.30" y="297.30" font-size="9" text-anchor="start" fill="#000" style="font-style:italic;font-weight:bold" stroke="#000" stroke-width="0.3">i</text>
<line x1="618.20" y1="296.60" x2="618.20" y2="407.80" stroke="#000" stroke-width="1.2" />
<line x1="617.60" y1="407.20" x2="676.40" y2="407.20" stroke="#000" stroke-width="1.2" />
<line x1="615.00" y1="407.20" x2="618.20" y2="407.20" stroke="#000" stroke-width="1.0" />
<text x="613.60" y="409.90" font-size="7.6" text-anchor="end" fill="#000" textLength="13.20" lengthAdjust="spacingAndGlyphs" >0.0</text>
<line x1="615.00" y1="370.50" x2="618.20" y2="370.50" stroke="#000" stroke-width="1.0" />
<text x="613.60" y="373.20" font-size="7.6" text-anchor="end" fill="#000" textLength="13.20" lengthAdjust="spacingAndGlyphs" >0.2</text>
<line x1="615.00" y1="333.80" x2="618.20" y2="333.80" stroke="#000" stroke-width="1.0" />
<text x="613.60" y="336.50" font-size="7.6" text-anchor="end" fill="#000" textLength="13.20" lengthAdjust="spacingAndGlyphs" >0.4</text>
<line x1="615.00" y1="297.10" x2="618.20" y2="297.10" stroke="#000" stroke-width="1.0" />
<text x="613.60" y="299.80" font-size="7.6" text-anchor="end" fill="#000" textLength="13.20" lengthAdjust="spacingAndGlyphs" >0.6</text>
<text x="590.00" y="350.60" font-size="9.8" text-anchor="middle" fill="#000" textLength="137.00" lengthAdjust="spacingAndGlyphs" transform="rotate(-90 590.00 350.60)" >Cell fraction (Treated/Untreated)</text>
<rect x="628.20" y="330.13" width="19.10" height="77.07" fill="#f08c8c" stroke="#111" stroke-width="1.1"/>
<line x1="637.75" y1="407.20" x2="637.75" y2="410.00" stroke="#000" stroke-width="1.0" />
<rect x="647.30" y="333.25" width="19.10" height="73.95" fill="#f870f8" stroke="#111" stroke-width="1.1"/>
<line x1="656.85" y1="407.20" x2="656.85" y2="410.00" stroke="#000" stroke-width="1.0" />
<line x1="647.30" y1="333.25" x2="647.30" y2="407.20" stroke="#000" stroke-width="1.7" />
<line x1="637.60" y1="321.50" x2="637.60" y2="330.00" stroke="#000" stroke-width="1.45" />
<line x1="632.20" y1="321.50" x2="643.00" y2="321.50" stroke="#000" stroke-width="1.45" />
<line x1="632.20" y1="330.00" x2="643.00" y2="330.00" stroke="#000" stroke-width="1.45" />
<rect x="635.50" y="318.50" width="4.2" height="4.2" fill="none" stroke="#e06a6a" stroke-width="1.0"/>
<rect x="635.50" y="327.20" width="4.2" height="4.2" fill="none" stroke="#e06a6a" stroke-width="1.0"/>
<rect x="635.50" y="335.40" width="4.2" height="4.2" fill="none" stroke="#e06a6a" stroke-width="1.0"/>
<line x1="657.40" y1="330.00" x2="657.40" y2="333.20" stroke="#000" stroke-width="1.45" />
<line x1="652.20" y1="330.00" x2="662.60" y2="330.00" stroke="#000" stroke-width="1.45" />
<line x1="652.20" y1="333.20" x2="662.60" y2="333.20" stroke="#000" stroke-width="1.45" />
<circle cx="652.70" cy="329.60" r="2.2" fill="none" stroke="#a848b8" stroke-width="1.0"/>
<circle cx="652.70" cy="336.50" r="2.2" fill="none" stroke="#a848b8" stroke-width="1.0"/>
<circle cx="661.70" cy="333.20" r="2.2" fill="none" stroke="#a848b8" stroke-width="1.0"/>
<text x="682.00" y="414.60" font-size="7.0" text-anchor="end" fill="#000" textLength="11.60" lengthAdjust="spacingAndGlyphs" style="font-weight:normal;stroke-width:0.4px" >96h</text>
<text x="638.6" y="418.0" font-size="7.4" style="font-weight:normal;stroke-width:0.4px" text-anchor="end" transform="rotate(-45 638.6 418.0)">BLM<tspan font-size="5.0" dy="-2.6">-/-</tspan></text>
<text x="658.4" y="416.6" font-size="7.4" style="font-weight:normal;stroke-width:0.4px" text-anchor="end" transform="rotate(-45 658.4 416.6)">BLM<tspan font-size="5.0" dy="-2.6">-/-</tspan><tspan dy="2.6">- siFANCJ</tspan></text>
</g>
</svg>
</body></html>
